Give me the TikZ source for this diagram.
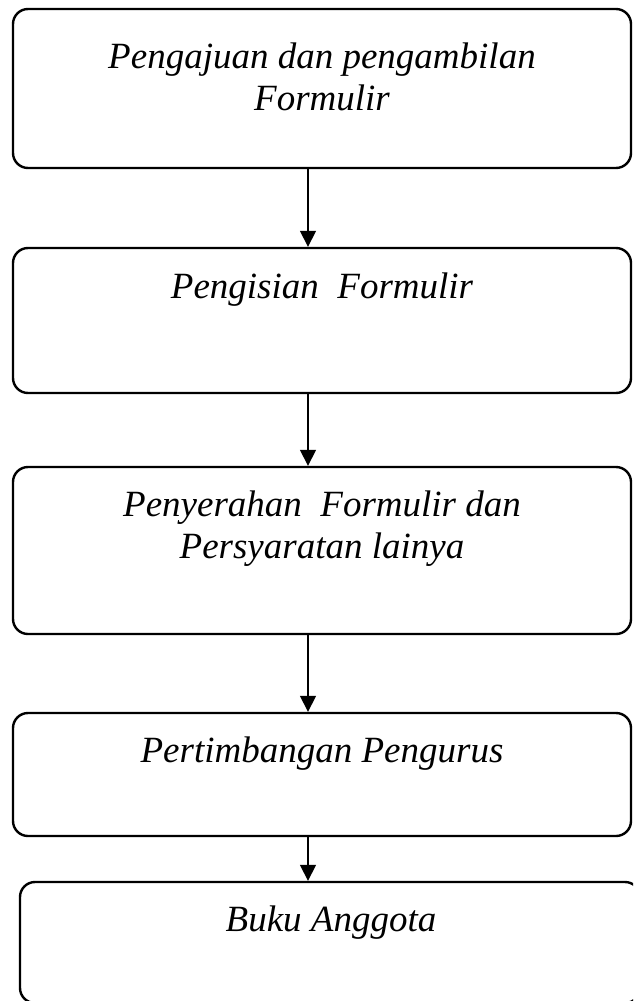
\documentclass[tikz,border=0pt]{standalone}
\usepackage{fontspec}
\setmainfont{Liberation Serif}
\usetikzlibrary{positioning,arrows.meta}

\begin{document}
\begin{tikzpicture}[
  x=1pt,y=1pt,
  >={Triangle[length=16pt,width=16pt]},
  stepbox/.style={draw,rounded corners=15pt,line width=2.4pt,inner sep=0pt,
                  minimum width=618pt},
  steptext/.style={anchor=base,align=center,inner sep=0pt,
                   font=\fontsize{37}{42}\selectfont\itshape},
  link/.style={->,line width=1.6pt}]

\useasboundingbox (0,0) rectangle (633,-1001);
\clip (0,0) rectangle (633,-1001);

% --- the five steps, top to bottom ---
\node[stepbox,minimum height=159pt] (b1) at (322,-88.5) {};
\node[steptext] (t1) at ([yshift=-103pt]b1.north)
  {Pengajuan dan pengambilan\\Formulir};

\node[stepbox,minimum height=145pt] (b2) at (322,-320.5) {};
\node[steptext] (t2) at ([yshift=-52pt]b2.north) {Pengisian\ \ Formulir};

\node[stepbox,minimum height=167pt] (b3) at (322,-550.5) {};
\node[steptext] (t3) at ([yshift=-93pt]b3.north)
  {Penyerahan\ \ Formulir dan\\Persyaratan lainya};

\node[stepbox,minimum height=123pt] (b4) at (322,-774.5) {};
\node[steptext] (t4) at ([yshift=-51pt]b4.north) {Pertimbangan Pengurus};

\node[stepbox,minimum width=620pt,minimum height=121pt] (b5) at (330,-942.5) {};
\node[steptext] (t5) at ([xshift=1pt,yshift=-51pt]b5.north) {Buku Anggota};

% --- arrows, a little left of the middle ---
\draw[link] ([xshift=-14pt]b1.south) -- ([xshift=-14pt]b2.north);
\draw[link] ([xshift=-14pt]b2.south) -- ([xshift=-14pt]b3.north);
\draw[link] ([xshift=-14pt]b3.south) -- ([xshift=-14pt]b4.north);
\draw[link] ([xshift=-14pt]b4.south) -- ([xshift=-22pt]b5.north);

\end{tikzpicture}
\end{document}
